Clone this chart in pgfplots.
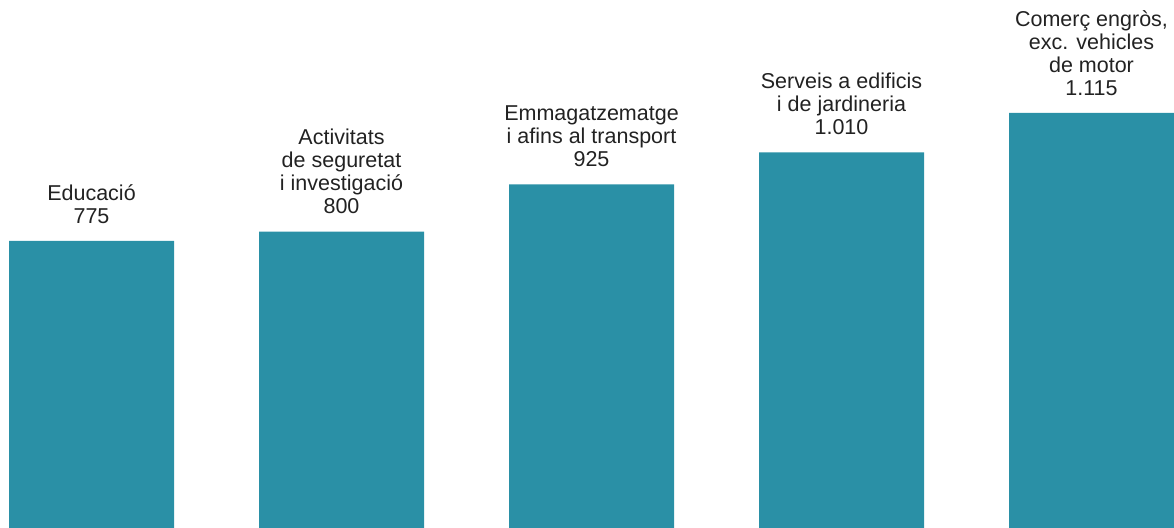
\documentclass[border=0pt]{standalone}
\usepackage{pgfplots}
\pgfplotsset{compat=1.18}
\usepackage{fontspec}
\setmainfont{Liberation Sans}
\definecolor{barblue}{HTML}{2A90A6}
\definecolor{txt}{HTML}{222222}
\begin{document}
\begin{tikzpicture}
\begin{axis}[
    width=587pt, height=264pt, scale only axis,
    xmin=-0.366, xmax=4.33,
    ymin=12.7, ymax=1415,
    hide axis, clip=false,
    ybar, bar width=0.66,
]
% ocupacio per activitat
\addplot[draw=none, fill=barblue] coordinates {
    (0, 775)
    (1, 800)
    (2, 925)
    (3, 1010)
    (4, 1115)
};
\path (rel axis cs:0,0) rectangle (rel axis cs:1,1);
\tikzset{lbl/.style={anchor=south, inner sep=0pt, yshift=8.5pt, align=center,
    text=txt, font=\fontsize{10.75}{11.5}\selectfont}}
\node[lbl] at (axis cs:0,775) {Educació\\775};
\node[lbl] at (axis cs:1,800) {Activitats\\de seguretat\\i investigació\\800};
\node[lbl] at (axis cs:2,925) {Emmagatzematge\\i afins al transport\\925};
\node[lbl] at (axis cs:3,1010) {Serveis a edificis\\i de jardineria\\1.010};
\node[lbl] at (axis cs:4,1115) {Comerç engròs,\\exc. vehicles\\de motor\\1.115};
\end{axis}
\end{tikzpicture}
\end{document}
